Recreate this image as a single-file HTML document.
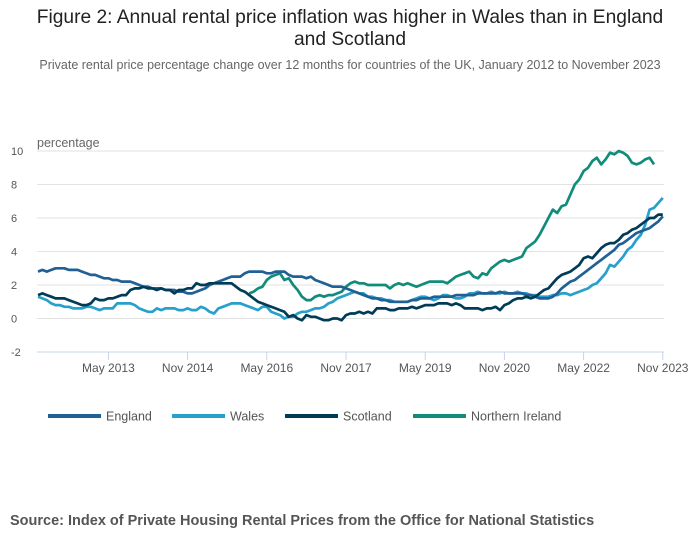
<!DOCTYPE html>
<html><head><meta charset="utf-8"><style>
body{margin:0;background:#fff;font-family:"Liberation Sans",sans-serif;}
#wrap{position:relative;width:700px;height:549px;overflow:hidden}
.title{position:absolute;top:7px;left:0;width:700px;text-align:center;font-size:19.2px;color:#222;line-height:22px}
.sub{position:absolute;top:58px;left:0;width:700px;text-align:center;font-size:12.5px;color:#666}
.src{position:absolute;top:513px;left:10px;font-size:14.5px;font-weight:bold;color:#555}
</style></head><body>
<div id="wrap">
<div class="title">Figure 2: Annual rental price inflation was higher in Wales than in England<br>and Scotland</div>
<div class="sub">Private rental price percentage change over 12 months for countries of the UK, January 2012 to November 2023</div>
<svg id="chart" width="700" height="549" style="position:absolute;left:0;top:0"></svg>
<div class="src">Source: Index of Private Housing Rental Prices from the Office for National Statistics</div>
</div>
<script>
const yTicks=[10,8,6,4,2,0,-2];
const xTickMonths=[16,34,52,70,88,106,124,142];
const xTickLabels=["May 2013","Nov 2014","May 2016","Nov 2017","May 2019","Nov 2020","May 2022","Nov 2023"];
const seriesNames=["England","Wales","Scotland","Northern Ireland"];
const england=[2.8,2.9,2.8,2.9,3.0,3.0,3.0,2.9,2.9,2.9,2.8,2.7,
2.6,2.6,2.5,2.4,2.4,2.3,2.3,2.2,2.2,2.2,2.1,2.0,
1.9,1.9,1.8,1.8,1.8,1.7,1.7,1.7,1.6,1.6,1.5,1.5,
1.6,1.7,1.8,2.0,2.1,2.2,2.3,2.4,2.5,2.5,2.5,2.7,
2.8,2.8,2.8,2.8,2.7,2.7,2.8,2.8,2.8,2.6,2.5,2.5,
2.5,2.4,2.5,2.3,2.2,2.1,2.0,1.9,1.9,1.9,1.8,1.7,
1.6,1.5,1.4,1.3,1.2,1.2,1.1,1.1,1.0,1.0,1.0,1.0,
1.0,1.1,1.1,1.2,1.2,1.2,1.3,1.3,1.3,1.3,1.3,1.4,
1.4,1.4,1.4,1.4,1.5,1.5,1.5,1.5,1.5,1.6,1.5,1.5,
1.5,1.5,1.5,1.4,1.4,1.3,1.2,1.2,1.2,1.3,1.5,1.8,
2.0,2.2,2.3,2.5,2.7,2.9,3.1,3.3,3.5,3.7,3.9,4.1,
4.4,4.5,4.7,4.9,5.1,5.2,5.3,5.4,5.6,5.8,6.1];
const wales=[1.3,1.2,1.1,0.9,0.8,0.8,0.7,0.7,0.6,0.6,0.6,0.7,
0.7,0.6,0.5,0.6,0.6,0.6,0.9,0.9,0.9,0.9,0.8,0.6,
0.5,0.4,0.4,0.6,0.5,0.6,0.6,0.6,0.5,0.5,0.6,0.5,
0.5,0.7,0.6,0.4,0.3,0.6,0.7,0.8,0.9,0.9,0.9,0.8,
0.7,0.6,0.5,0.7,0.7,0.4,0.3,0.2,0.0,0.1,0.1,0.3,
0.4,0.4,0.5,0.6,0.6,0.7,0.9,1.0,1.2,1.3,1.4,1.5,
1.6,1.5,1.5,1.3,1.3,1.2,1.2,1.1,1.1,1.0,1.0,1.0,
1.0,1.1,1.2,1.3,1.3,1.2,1.1,1.2,1.4,1.4,1.3,1.2,
1.2,1.3,1.5,1.5,1.6,1.5,1.5,1.6,1.5,1.5,1.6,1.5,
1.5,1.6,1.5,1.5,1.4,1.4,1.3,1.3,1.3,1.4,1.4,1.5,
1.5,1.4,1.5,1.6,1.7,1.8,2.0,2.1,2.4,2.7,3.2,3.1,
3.4,3.7,4.1,4.3,4.7,5.0,5.6,6.5,6.6,6.9,7.2];
const scotland=[1.4,1.5,1.4,1.3,1.2,1.2,1.2,1.1,1.0,0.9,0.8,0.8,
0.9,1.2,1.1,1.1,1.2,1.2,1.3,1.4,1.4,1.7,1.8,1.8,
1.9,1.8,1.8,1.7,1.8,1.7,1.7,1.5,1.7,1.7,1.8,1.8,
2.1,2.0,2.0,2.1,2.1,2.1,2.1,2.1,2.1,1.9,1.7,1.6,
1.4,1.2,1.0,0.9,0.8,0.7,0.6,0.5,0.4,0.1,0.2,0.0,
-0.1,0.2,0.1,0.1,0.0,-0.1,-0.1,0.0,0.0,-0.1,0.2,0.3,
0.3,0.4,0.3,0.4,0.3,0.6,0.6,0.6,0.5,0.5,0.6,0.6,
0.6,0.7,0.6,0.7,0.8,0.8,0.8,0.9,0.9,0.9,0.8,0.9,
0.8,0.6,0.6,0.6,0.6,0.5,0.6,0.6,0.7,0.5,0.8,0.9,
1.1,1.2,1.2,1.3,1.2,1.3,1.5,1.7,1.8,2.1,2.4,2.6,
2.7,2.8,3.0,3.2,3.6,3.7,3.6,3.9,4.2,4.4,4.5,4.5,
4.7,5.0,5.1,5.3,5.4,5.6,5.8,6.0,6.0,6.2,6.2];
const nireland=[null,null,null,null,null,null,null,null,null,null,null,null,
null,null,null,null,null,null,null,null,null,null,null,null,
null,null,null,null,null,null,null,null,null,null,null,null,
null,null,null,null,null,null,null,null,null,null,null,null,
1.5,1.6,1.8,1.9,2.3,2.5,2.6,2.7,2.3,2.4,2.0,1.7,
1.3,1.1,1.1,1.3,1.4,1.3,1.4,1.4,1.5,1.6,1.9,2.1,
2.2,2.1,2.1,2.0,2.0,2.0,2.0,2.0,1.8,2.0,2.1,2.0,
2.1,2.0,1.9,2.0,2.1,2.2,2.2,2.2,2.2,2.1,2.3,2.5,
2.6,2.7,2.8,2.5,2.4,2.7,2.6,3.0,3.2,3.4,3.5,3.4,
3.5,3.6,3.7,4.2,4.4,4.6,5.0,5.5,6.0,6.5,6.3,6.7,
6.8,7.4,8.0,8.3,8.8,9.0,9.4,9.6,9.2,9.5,9.9,9.8,
10.0,9.9,9.7,9.3,9.2,9.3,9.5,9.6,9.2];

const NS="http://www.w3.org/2000/svg";
const svg=document.getElementById('chart');
const X0=38,XS=4.40,Y0=318.5,YS=16.75;
function xs(m){return X0+m*XS;}
function ys(v){return Y0-v*YS;}
function mk(t,a,p){const e=document.createElementNS(NS,t);for(const k in a)e.setAttribute(k,a[k]);(p||svg).appendChild(e);return e;}

yTicks.forEach(v=>{
  if(v!==-2){const l=mk('line',{x1:37,x2:664,y1:ys(v),y2:ys(v),stroke:'#e2e2e2','stroke-width':1});
  
  }
  const t=mk('text',{x:11,y:ys(v)+4,'font-size':11,fill:'#555'});t.textContent=v;
  
  
});
const yt=mk('text',{x:37,y:147,'font-size':12.5,fill:'#666'});yt.textContent='percentage';


const ax=mk('line',{x1:37,x2:664,y1:ys(-2),y2:ys(-2),stroke:'#c6d4e8','stroke-width':1});


xTickMonths.forEach((m,i)=>{
  const tk=mk('line',{x1:xs(m),x2:xs(m),y1:ys(-2),y2:ys(-2)+8,stroke:'#c6d4e8'});
  
  
  const t=mk('text',{x:xs(m),y:372,'font-size':12,fill:'#555','text-anchor':'middle'});t.textContent=xTickLabels[i];
  
  
});
const colors=["#206095","#27a0cc","#003c57","#118c7b"];
const data=[england,wales,scotland,nireland];
const order=[3,1,0,2];
order.forEach(si=>{
  let d='',pen=false;
  data[si].forEach((v,m)=>{if(v===null){pen=false;return;}d+=(pen?'L':'M')+xs(m).toFixed(1)+','+ys(v).toFixed(1);pen=true;});
  const p=mk('path',{d:d,fill:'none',stroke:colors[si],'stroke-width':2.7,'stroke-linejoin':'round'});
  
  
});
const legX=[48,172,285,413];
seriesNames.forEach((n,i)=>{
  const g=mk('g',{});
  
  
  mk('line',{x1:legX[i],x2:legX[i]+53,y1:416,y2:416,stroke:colors[i],'stroke-width':4},g);
  const t=mk('text',{x:legX[i]+58,y:420.5,'font-size':12.5,fill:'#555'},g);t.textContent=n;
});
</script>
</body></html>
